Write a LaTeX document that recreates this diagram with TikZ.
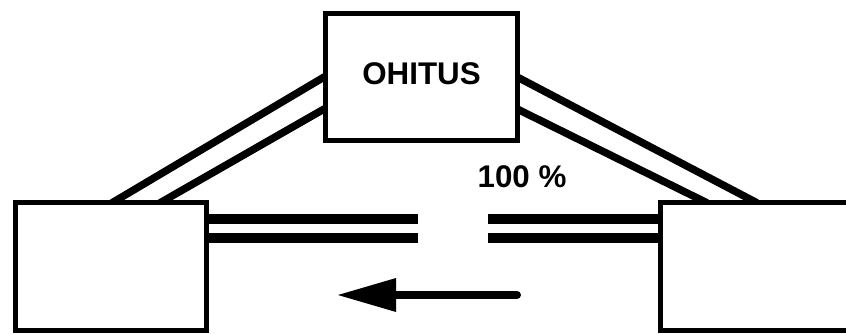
\documentclass[tikz,border=0pt]{standalone}
\usepackage{fontspec}
\setmainfont{Liberation Sans}
\usetikzlibrary{arrows.meta,backgrounds}
\begin{document}
\begin{tikzpicture}[
    x=0.75pt, y=-0.75pt,
    every node/.style={font=\bfseries\fontsize{23.5}{28}\selectfont, inner sep=0pt},
    unitbox/.style={draw, fill=white, line width=3.75pt, outer sep=0pt,
        minimum width=143.5pt, minimum height=95.5pt},
    pipe/.style={line width=5.6pt},
    bus/.style={line width=7.5pt},
    flow/.style={line width=6pt, line cap=round,
        -{Triangle[length=43.5pt, width=25.5pt, line width=0pt]}}
]

\useasboundingbox (0,0) rectangle (846,333);

% Box centres (px): top | left | right
\def\tx{421.5}
\def\ty{77}
\def\lx{111}
\def\rx{756}
\def\by{266.5}

% Boxes
\node[unitbox, text depth=5.5pt] (tbox) at (\tx,\ty) {OHITUS};
\node[unitbox] (lbox) at (\lx,\by) {};
\node[unitbox] (rbox) at (\rx,\by) {};

% Share label
\node (share) at (522,176.5) {100 \%};

% Gap ends of the horizontal pair and the flow arrow
\coordinate (gapa) at (418,219);
\coordinate (gapb) at (418,238);
\coordinate (gapc) at (488,219);
\coordinate (gapd) at (488,238);
\coordinate (fsrc) at (517,295);
\coordinate (fdst) at (338,295);

\begin{scope}[on background layer]
% top -> left
\draw[pipe] (tbox.west |- 0,76)  -- (lbox.north -| 112,0);
\draw[pipe] (tbox.west |- 0,108) -- (lbox.north -| 160,0);

% top -> right
\draw[pipe] (tbox.east |- 0,77)  -- (rbox.north -| 757,0);
\draw[pipe] (tbox.east |- 0,109) -- (rbox.north -| 707,0);

% left <-> right
\draw[bus] (lbox.east |- gapa) -- (gapa);
\draw[bus] (lbox.east |- gapb) -- (gapb);
\draw[bus] (gapc) -- (rbox.west |- gapc);
\draw[bus] (gapd) -- (rbox.west |- gapd);
\end{scope}

% Flow direction
\draw[flow] (fsrc) -- (fdst);

\end{tikzpicture}
\end{document}
